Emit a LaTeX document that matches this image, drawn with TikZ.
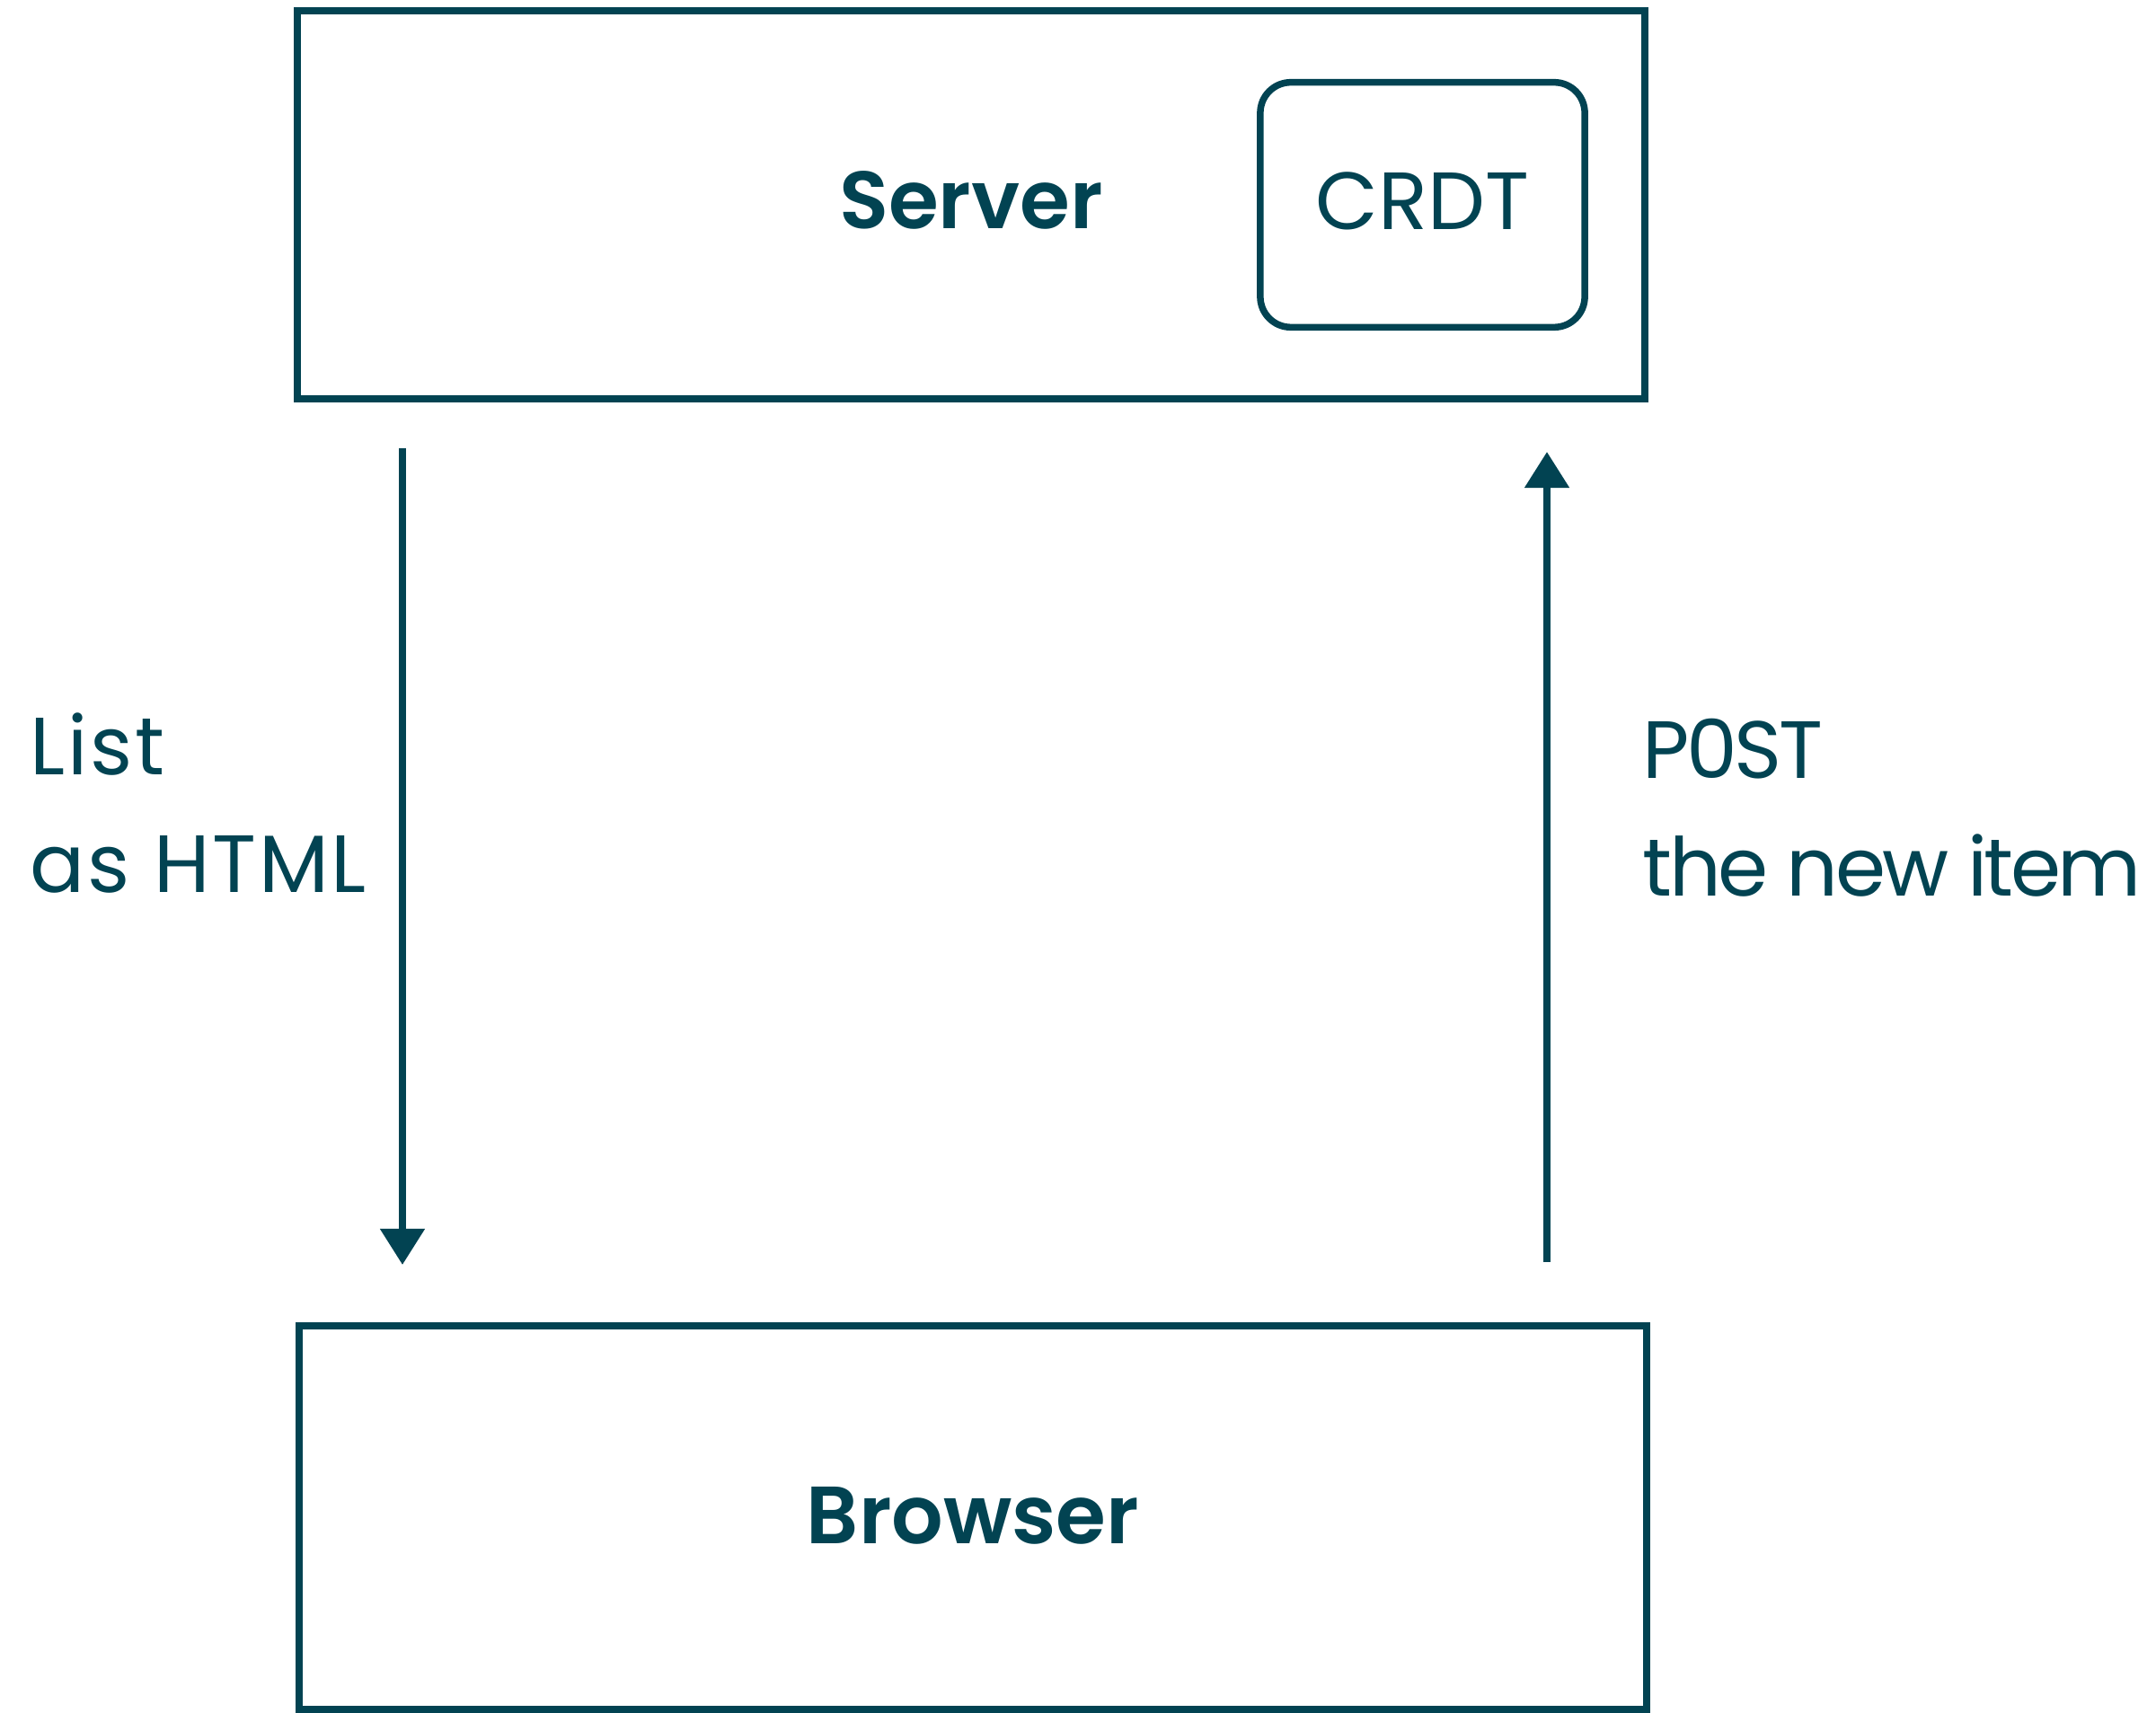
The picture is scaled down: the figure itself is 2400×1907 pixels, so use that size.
\documentclass[tikz,border=0pt]{standalone}
\usepackage{fontspec}
\setmainfont{Poppins}[BoldFont={Poppins SemiBold}]
\usetikzlibrary{arrows.meta}
\definecolor{ink}{HTML}{024352}

\tikzset{
  frame/.style={draw=ink, line width=0.08cm, inner sep=0pt},
  store/.style={draw=ink, line width=0.075cm, rounded corners=0.34cm, inner sep=0pt},
  boxtitle/.style={text=ink, font=\fontsize{25.7}{30}\selectfont\bfseries},
  plain/.style={text=ink, font=\fontsize{25.7}{30}\selectfont},
  flowlabel/.style={text=ink, font=\fontsize{25.7}{37.3}\selectfont, align=left, inner sep=0pt},
  flow/.style={draw=ink, line width=0.08cm, -{Triangle[width=0.48cm,length=0.40cm]}}
}

\begin{document}
\begin{tikzpicture}[x=0.01cm, y=-0.01cm]
  \useasboundingbox (0,0) rectangle (2400,1907);

  % Server with its CRDT store
  \node[frame, minimum width=15cm, minimum height=4.32cm] (server) at (1081,228) {};
  \node[boxtitle, anchor=base] (servertitle) at (1081,255) {Server};
  \node[store, minimum width=3.61cm, minimum height=2.725cm] (crdt) at (1583.5,228) {};
  \node[plain, anchor=base] (crdttext) at (1583.5,256) {CRDT};

  % Browser
  \node[frame, minimum width=15cm, minimum height=4.27cm] (browser) at (1083,1689.5) {};
  \node[boxtitle, anchor=base] (browsertitle) at (1083,1718) {Browser};

  % Request / response flows
  \coordinate (downstart) at (448,499);
  \coordinate (downend) at (448,1408);
  \coordinate (upstart) at (1722,1405);
  \coordinate (upend) at (1722,503);
  \draw[flow] (downstart) -- (downend);
  \draw[flow] (upstart) -- (upend);

  % labels are placed by the baseline of their last line
  \node[flowlabel, anchor=base west] (htmllabel) at (33,994)
    {\addfontfeature{LetterSpace=3}List\\\addfontfeature{LetterSpace=3}as HTML};
  \node[flowlabel, anchor=base west] (postlabel) at (1828,998)
    {\addfontfeature{LetterSpace=-4}P0ST\\\addfontfeature{LetterSpace=-4}the new item};
\end{tikzpicture}
\end{document}
